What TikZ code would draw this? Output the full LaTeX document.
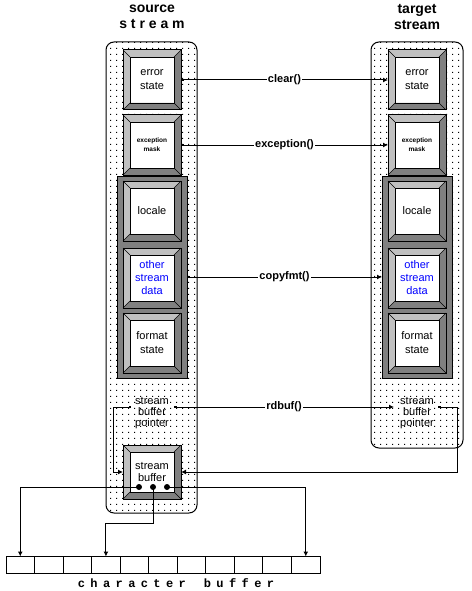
\documentclass[tikz,border=0pt]{standalone}
\usepackage{fontspec}
\setmainfont{Liberation Sans}
\newfontfamily\bufmono[LetterSpace=45]{Liberation Mono}
\usepackage{tikz}
\usetikzlibrary{%
	arrows.meta,%
	patterns.meta%
}
\definecolor{BevelHi}{HTML}{C0C0C0}
\definecolor{BevelLo}{HTML}{808080}
\definecolor{DataBlue}{HTML}{0000FF}

\tikzdeclarepattern{name=sparsedots,
  bottom left={(0pt,0pt)}, top right={(6pt,6pt)}, tile size={(6pt,6pt)},
  code={\fill (2.5pt,2.5pt) rectangle (3.5pt,3.5pt);}}

% raised frame round a button node
\newcommand{\bevel}[1]{%
  \fill[BevelLo] (#1.north east) -- (#1.south east) -- (#1.south west)
    -- ([shift={(7pt,7pt)}]#1.south west) -- ([shift={(-7pt,7pt)}]#1.south east)
    -- ([shift={(-7pt,-7pt)}]#1.north east) -- cycle;
  \fill[BevelHi] (#1.north east) -- (#1.north west) -- (#1.south west)
    -- ([shift={(7pt,7pt)}]#1.south west) -- ([shift={(7pt,-7pt)}]#1.north west)
    -- ([shift={(-7pt,-7pt)}]#1.north east) -- cycle;
  \draw[line width=0.4pt] ([shift={(7pt,7pt)}]#1.south west) rectangle ([shift={(-7pt,-7pt)}]#1.north east);
  \draw[line width=0.4pt] (#1.north west) -- ++(7pt,-7pt) (#1.north east) -- ++(-7pt,-7pt)
    (#1.south west) -- ++(7pt,7pt) (#1.south east) -- ++(-7pt,7pt);
  \draw (#1.north west) rectangle (#1.south east);
}

\begin{document}
\begin{tikzpicture}[x=1pt,y=-1pt,line width=1pt,
  panel/.style={draw,rounded corners=8pt,pattern=sparsedots},
  btn/.style={rectangle,fill=white,minimum width=58pt,minimum height=60pt,inner sep=0pt,outer sep=0pt,align=center,font=\fontsize{11}{14}\selectfont},
  grp/.style={draw,fill=BevelLo,minimum width=70pt,minimum height=202pt,inner sep=0pt,outer sep=0pt},
  ptr/.style={align=center,inner sep=0pt,font=\fontsize{11}{11}\selectfont},
  link/.style={{Square[length=2.5pt,width=2.5pt]}-{Latex[length=5pt,width=5pt]}},
  wire/.style={-{Latex[length=5pt,width=5pt]}},
  lbl/.style={fill=white,inner sep=1pt,font=\fontsize{11}{11}\selectfont\bfseries},
  cell/.style={draw,minimum width=28.55pt,minimum height=17pt,inner sep=0pt,outer sep=0pt},
  title/.style={align=center,font=\fontsize{14}{16}\selectfont\bfseries}]
\useasboundingbox (0,0) rectangle (471,591);

\draw[panel] (106,42) rectangle (197,513);
\draw[panel] (371,42) rectangle (463,448);
\node[title] (srcT) at (152,17) {source\\s t r e a m};
\node[title] (tgtT) at (417,17) {target\\stream};

% source stream
\node[btn] (errS) at (152,80) {error\\state};
\node[btn,font=\fontsize{6.5}{9}\selectfont\bfseries] (excS) at (152,145) {exception\\mask};
\node[grp] (grpS) at (152,277) {};
\node[btn] (locS) at (152,211) {locale};
\node[btn,text=DataBlue,font=\fontsize{11}{13}\selectfont] (othS) at (152,278) {other\\stream\\data};
\node[btn] (fmtS) at (152,343) {format\\state};
\node[ptr] (ptrS) at (152,413) {stream\\buffer\\pointer};
\node[btn,minimum height=54pt,font=\fontsize{11}{12}\selectfont] (sbuf) at (152,472) {stream\\buffer};
\foreach \b in {errS,excS,locS,othS,fmtS,sbuf} {\bevel{\b}}

% target stream
\node[btn] (errT) at (417,80) {error\\state};
\node[btn,font=\fontsize{6.5}{9}\selectfont\bfseries] (excT) at (417,145) {exception\\mask};
\node[grp] (grpT) at (417,277) {};
\node[btn] (locT) at (417,211) {locale};
\node[btn,text=DataBlue,font=\fontsize{11}{13}\selectfont] (othT) at (417,278) {other\\stream\\data};
\node[btn] (fmtT) at (417,343) {format\\state};
\node[ptr] (ptrT) at (417,413) {stream\\buffer\\pointer};
\foreach \b in {errT,excT,locT,othT,fmtT} {\bevel{\b}}

\coordinate (ptrSl) at (131,407);
\coordinate (ptrSr) at (174,407);
\coordinate (ptrTl) at (394,407);
\coordinate (ptrTr) at (438,407);

\draw[link] (errS.east) -- node[lbl] {clear()} (errT.west);
\draw[link] (excS.east) -- node[lbl] {exception()} (excT.west);
\draw[link] (grpS.east) -- node[lbl] {copyfmt()} (grpT.west);
\draw[link] (ptrSr) -- node[lbl] {rdbuf()} (ptrTl);
\draw[link] (ptrSl) -- ++(-18,0) |- (sbuf.west);
\draw[link] (ptrTr) -- ++(19,0) |- (sbuf.east);

% character buffer
\foreach \i in {1,...,11} \node[cell] (c\i) at ({6+(\i-0.5)*28.55},565) {};
\coordinate (dA) at (139,487);
\coordinate (dB) at (153,487);
\coordinate (dC) at (167,487);
\draw[wire] (dA) -| (c1.north);
\draw[wire] (dB) -- ++(0,36) -| (c4.north);
\draw[wire] (dC) -| (c11.north);
\foreach \d in {dA,dB,dC} \fill (\d) circle (3pt);
\node[font=\bufmono\bfseries\fontsize{12}{12}\selectfont] (bufL) at (176,583) {character\hspace{18pt}buffer};
\end{tikzpicture}
\end{document}
